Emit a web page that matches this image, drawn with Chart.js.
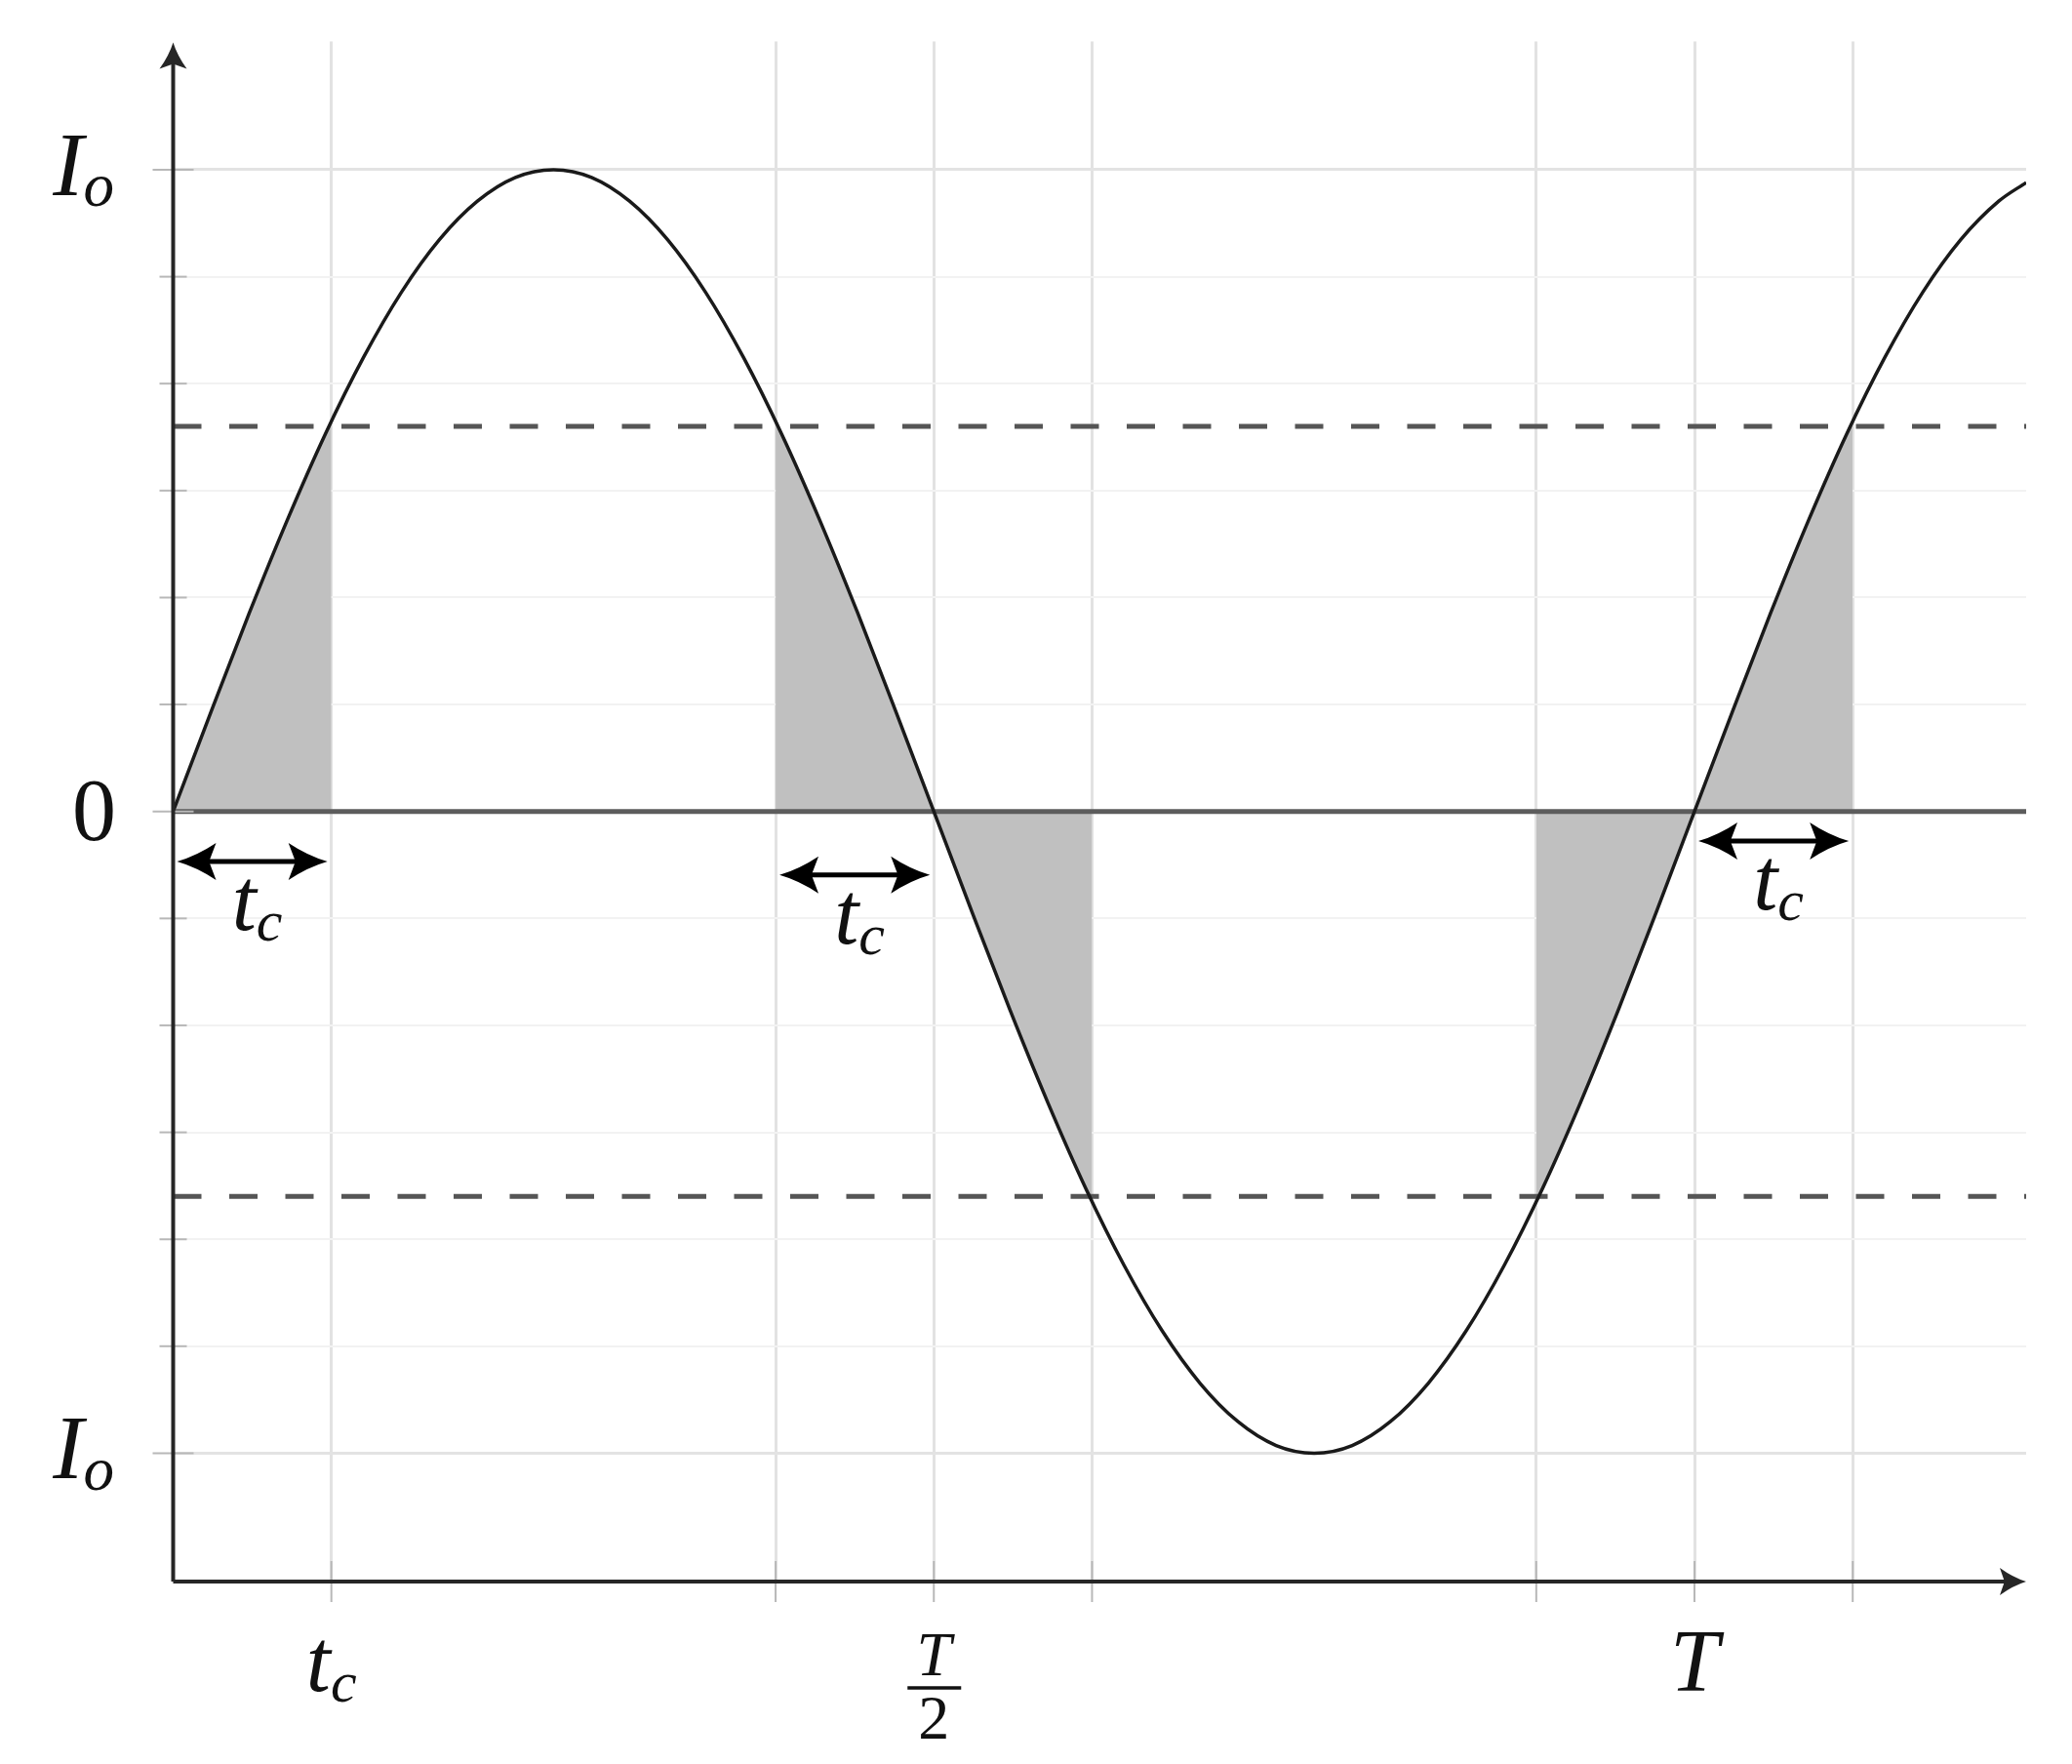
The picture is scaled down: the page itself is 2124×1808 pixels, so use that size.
<!DOCTYPE html>
<html>
<head>
<meta charset="utf-8">
<script src="https://cdn.jsdelivr.net/npm/chart.js@4/dist/chart.umd.min.js"></script>
<style>
  html, body { margin: 0; padding: 0; background: #ffffff; }
  #wrap { width: 2124px; height: 1808px; }
</style>
</head>
<body>
<div id="wrap"><canvas id="c" width="2124" height="1808"></canvas></div>
<script>
// ---- data (time in units of T, current in units of I_o) ----
const tValues = [0, 0.025, 0.05, 0.075, 0.1, 0.125, 0.15, 0.175, 0.2, 0.225, 0.25, 0.275, 0.3, 0.325, 0.35, 0.375, 0.4, 0.425, 0.45, 0.475, 0.5, 0.525, 0.55, 0.575, 0.6, 0.625, 0.65, 0.675, 0.7, 0.725, 0.75, 0.775, 0.8, 0.825, 0.85, 0.875, 0.9, 0.925, 0.95, 0.975, 1.0, 1.025, 1.05, 1.075, 1.1, 1.125, 1.15, 1.175, 1.2, 1.218];
const currentValues = [0, 0.156, 0.309, 0.454, 0.588, 0.707, 0.809, 0.891, 0.951, 0.988, 1.0, 0.988, 0.951, 0.891, 0.809, 0.707, 0.588, 0.454, 0.309, 0.156, 0, -0.156, -0.309, -0.454, -0.588, -0.707, -0.809, -0.891, -0.951, -0.988, -1.0, -0.988, -0.951, -0.891, -0.809, -0.707, -0.588, -0.454, -0.309, -0.156, 0, 0.156, 0.309, 0.454, 0.588, 0.707, 0.809, 0.891, 0.951, 0.980];
const shadeStart = [0, 0.396, 0.896];
const shadeEnd = [0.104, 0.604, 1.104];
const shadeStartValues = [0, 0.605, -0.605];
const shadeEndValues = [0.605, -0.605, 0.605];
const thresholdLevels = [0.6, -0.6];
const xTickValues = [0.104, 0.396, 0.5, 0.604, 0.896, 1.0, 1.104];
const xTickLabels = ['t_c', '', 'T/2', '', '', 'T', ''];
const yTickValues = [-1, -0.8333, -0.6667, -0.5, -0.3333, -0.1667, 0, 0.1667, 0.3333, 0.5, 0.6667, 0.8333, 1];
const yTickLabels = ['I_o', '', '', '', '', '', '0', '', '', '', '', '', 'I_o'];
const spanFrom = [0, 0.396, 1.0];
const spanTo = [0.104, 0.5, 1.104];
const spanLevel = [-0.078, -0.099, -0.046];
const spanLabels = ['t_c', 't_c', 't_c'];
const X_MAX = 1.218, Y_MIN = -1.2, Y_MAX = 1.2;

// ---- helpers ----
const SERIF = '"Liberation Serif", "Times New Roman", Times, serif';
function fontFor(s, size) { return (/^[0-9]+$/.test(s) ? '' : 'italic ') + size + 'px ' + SERIF; }
function runsOf(label, size) {
  const [base, sub] = label.split('_');
  const r = [{ t: base, font: fontFor(base, size), dy: 0 }];
  if (sub) r.push({ t: sub, font: fontFor(sub, Math.round(size * 0.67)), dy: size * 0.12 });
  return r;
}
function drawRuns(ctx, runs, x, y, align) {
  let total = 0;
  runs.forEach(r => { ctx.font = r.font; r.w = ctx.measureText(r.t).width; total += r.w; });
  let sx = align === 'center' ? x - total / 2 : (align === 'right' ? x - total : x);
  ctx.textAlign = 'left'; ctx.textBaseline = 'alphabetic'; ctx.fillStyle = '#111';
  runs.forEach(r => { ctx.font = r.font; ctx.fillText(r.t, sx, y + r.dy); sx += r.w; });
}
function drawFraction(ctx, num, den, cx, axisY) {
  ctx.fillStyle = '#111'; ctx.textAlign = 'center'; ctx.textBaseline = 'alphabetic';
  ctx.font = fontFor(num, 64); ctx.fillText(num, cx, axisY + 96);
  ctx.font = fontFor(den, 64); ctx.fillText(den, cx, axisY + 161);
  ctx.strokeStyle = '#111'; ctx.lineWidth = 3.5;
  ctx.beginPath(); ctx.moveTo(cx - 27, axisY + 109); ctx.lineTo(cx + 28, axisY + 109); ctx.stroke();
}
function drawLabel(ctx, label, x, y, align, size) {
  if (!label) return;
  drawRuns(ctx, runsOf(label, size), x, y, align);
}
function head(ctx, tx, ty, dx, dy, L, hw) {
  const px = -dy, py = dx;
  const bx = tx - dx * L, by = ty - dy * L;
  const c1x = bx + px * hw, c1y = by + py * hw;
  const c2x = bx - px * hw, c2y = by - py * hw;
  const nx = tx - dx * L * 0.82, ny = ty - dy * L * 0.82;
  const mx = tx - dx * L * 0.5, my = ty - dy * L * 0.5;
  ctx.beginPath();
  ctx.moveTo(tx, ty);
  ctx.quadraticCurveTo(mx + px * hw * 0.3, my + py * hw * 0.3, c1x, c1y);
  ctx.lineTo(nx, ny);
  ctx.lineTo(c2x, c2y);
  ctx.quadraticCurveTo(mx - px * hw * 0.3, my - py * hw * 0.3, tx, ty);
  ctx.closePath();
  ctx.fill();
}
function line(ctx, a, b, c, d) { ctx.beginPath(); ctx.moveTo(a, b); ctx.lineTo(c, d); ctx.stroke(); }

const decor = {
  id: 'decor',
  afterDatasetsDraw(chart) {
    const { ctx, chartArea: a, scales: { x, y } } = chart;
    const x0 = x.getPixelForValue(0);
    const yb = y.getPixelForValue(Y_MIN);
    ctx.save();
    ctx.lineWidth = 2; ctx.strokeStyle = '#b8b8b8';
    xTickValues.forEach(v => { const px = x.getPixelForValue(v); line(ctx, px, yb - 21, px, yb + 21); });
    yTickValues.forEach((v, i) => {
      const py = y.getPixelForValue(v);
      const L = yTickLabels[i] !== '' ? 21 : 14;
      line(ctx, x0 - L, py, x0 + L, py);
    });
    ctx.strokeStyle = '#262626'; ctx.fillStyle = '#262626'; ctx.lineWidth = 4;
    line(ctx, x0, yb, x0, a.top + 18);
    line(ctx, x0, yb, a.right - 18, yb);
    head(ctx, x0, a.top + 1, 0, -1, 27, 14);
    head(ctx, a.right, yb, 1, 0, 27, 14);
    spanFrom.forEach((f, i) => {
      const xa = x.getPixelForValue(f) + 4, xb = x.getPixelForValue(spanTo[i]) - 4;
      const py = y.getPixelForValue(spanLevel[i]);
      ctx.strokeStyle = '#000'; ctx.fillStyle = '#000'; ctx.lineWidth = 5;
      line(ctx, xa + 30, py, xb - 30, py);
      head(ctx, xa, py, -1, 0, 40, 19);
      head(ctx, xb, py, 1, 0, 40, 19);
      drawLabel(ctx, spanLabels[i], (xa + xb) / 2 + 5, py + 70, 'center', 90);
    });
    xTickValues.forEach((v, i) => {
      const lab = xTickLabels[i]; if (!lab) return;
      const px = x.getPixelForValue(v);
      if (lab.includes('/')) { const [n, d] = lab.split('/'); drawFraction(ctx, n, d, px, yb); }
      else drawLabel(ctx, lab, px, yb + 112, 'center', 90);
    });
    yTickValues.forEach((v, i) => {
      const lab = yTickLabels[i]; if (!lab) return;
      const py = y.getPixelForValue(v);
      if (lab === '0') drawLabel(ctx, lab, 119, py + 29, 'right', 90);
      else drawLabel(ctx, lab, 117, py + 26, 'right', 94);
    });
    ctx.restore();
  }
};

const points = tValues.map((t, i) => ({ x: t, y: currentValues[i] }));
const lineBase = { showLine: true, pointRadius: 0, pointHoverRadius: 0, fill: false };

const datasets = [];
datasets.push(Object.assign({}, lineBase, {
  label: 'current', data: points, borderColor: '#1a1a1a', borderWidth: 3.5,
  cubicInterpolationMode: 'monotone', order: 0
}));
thresholdLevels.forEach((lv, i) => datasets.push(Object.assign({}, lineBase, {
  label: 'threshold ' + i, data: [{ x: 0, y: lv }, { x: X_MAX, y: lv }],
  borderColor: '#555555', borderWidth: 5, borderDash: [29, 28.5], order: 1
})));
datasets.push(Object.assign({}, lineBase, {
  label: 'zero', data: [{ x: 0, y: 0 }, { x: X_MAX, y: 0 }],
  borderColor: '#5c5c5c', borderWidth: 5, order: 2
}));
shadeStart.forEach((lo, i) => {
  const hi = shadeEnd[i];
  const inner = points.filter(p => p.x > lo + 1e-6 && p.x < hi - 1e-6);
  const data = [{ x: lo, y: shadeStartValues[i] }].concat(inner, [{ x: hi, y: shadeEndValues[i] }]);
  datasets.push(Object.assign({}, lineBase, {
    label: 'shade ' + i, data,
    fill: 'origin', backgroundColor: '#c0c0c0', borderColor: 'rgba(0,0,0,0)', borderWidth: 0,
    cubicInterpolationMode: 'monotone', order: 4
  }));
});

function build() {
  new Chart(document.getElementById('c'), {
    type: 'scatter',
    data: { datasets },
    options: {
      responsive: false, animation: false, devicePixelRatio: 1,
      layout: { padding: { left: 177.5, right: 47, top: 42.4, bottom: 187 } },
      plugins: { legend: { display: false }, tooltip: { enabled: false } },
      events: [],
      scales: {
        x: {
          type: 'linear', min: 0, max: X_MAX,
          afterBuildTicks: s => { s.ticks = xTickValues.map(v => ({ value: v })); },
          afterFit: s => { s.height = 0; },
          ticks: { display: false },
          grid: { color: '#e2e2e2', lineWidth: 3, drawTicks: false },
          border: { display: false }
        },
        y: {
          type: 'linear', min: Y_MIN, max: Y_MAX,
          afterBuildTicks: s => { s.ticks = yTickValues.map(v => ({ value: v })); },
          afterFit: s => { s.width = 0; },
          ticks: { display: false },
          grid: {
            drawTicks: false,
            color: c => { const v = c.tick ? c.tick.value : 1; if (v === 0) return 'rgba(0,0,0,0)'; return Math.abs(v) === 1 ? '#e3e3e3' : '#f2f2f2'; },
            lineWidth: c => { const v = c.tick ? c.tick.value : 1; return Math.abs(v) === 1 ? 3 : 2; }
          },
          border: { display: false }
        }
      }
    },
    plugins: [decor]
  });
}
const fontLoads = [
  'italic 90px "Liberation Serif"', '90px "Liberation Serif"', 'italic 60px "Liberation Serif"'
].map(f => (document.fonts && document.fonts.load) ? document.fonts.load(f).catch(() => null) : Promise.resolve());
Promise.all(fontLoads).then(build, build);
</script>
</body>
</html>
